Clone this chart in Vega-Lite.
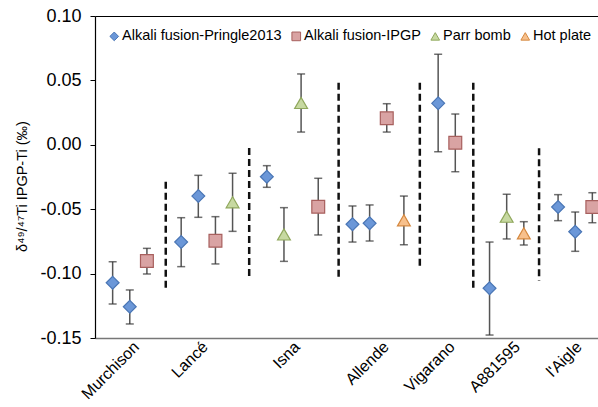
{
  "$schema": "https://vega.github.io/schema/vega-lite/v6.json",
  "autosize": "none",
  "width": 503,
  "height": 322,
  "padding": {"left": 95, "top": 16, "right": 0, "bottom": 69},
  "config": {
    "font": "Liberation Sans",
    "view": {"stroke": null},
    "axis": {"grid": false}
  },
  "datasets": {
    "pts": [
      {"sample": "Murchison", "method": "Alkali fusion-Pringle2013", "slot": 0, "value": -0.1071, "lo": -0.1236, "hi": -0.0908},
      {"sample": "Murchison", "method": "Alkali fusion-Pringle2013", "slot": 1, "value": -0.1257, "lo": -0.1391, "hi": -0.1127},
      {"sample": "Murchison", "method": "Alkali fusion-IPGP", "slot": 2, "value": -0.0902, "lo": -0.1003, "hi": -0.0804},
      {"sample": "Lancé", "method": "Alkali fusion-Pringle2013", "slot": 4, "value": -0.0755, "lo": -0.0946, "hi": -0.0566},
      {"sample": "Lancé", "method": "Alkali fusion-Pringle2013", "slot": 5, "value": -0.0398, "lo": -0.0563, "hi": -0.0237},
      {"sample": "Lancé", "method": "Alkali fusion-IPGP", "slot": 6, "value": -0.0745, "lo": -0.0925, "hi": -0.0558},
      {"sample": "Lancé", "method": "Parr bomb", "slot": 7, "value": -0.0446, "lo": -0.0672, "hi": -0.0221},
      {"sample": "Isna", "method": "Alkali fusion-Pringle2013", "slot": 9, "value": -0.0248, "lo": -0.0330, "hi": -0.0162},
      {"sample": "Isna", "method": "Parr bomb", "slot": 10, "value": -0.0696, "lo": -0.0905, "hi": -0.0488},
      {"sample": "Isna", "method": "Parr bomb", "slot": 11, "value": 0.0325, "lo": 0.0099, "hi": 0.0550},
      {"sample": "Isna", "method": "Alkali fusion-IPGP", "slot": 12, "value": -0.0481, "lo": -0.0700, "hi": -0.0260},
      {"sample": "Allende", "method": "Alkali fusion-Pringle2013", "slot": 14, "value": -0.0617, "lo": -0.0755, "hi": -0.0475},
      {"sample": "Allende", "method": "Alkali fusion-Pringle2013", "slot": 15, "value": -0.0609, "lo": -0.0747, "hi": -0.0467},
      {"sample": "Allende", "method": "Alkali fusion-IPGP", "slot": 16, "value": 0.0206, "lo": 0.0099, "hi": 0.0319},
      {"sample": "Allende", "method": "Hot plate", "slot": 17, "value": -0.0586, "lo": -0.0776, "hi": -0.0398},
      {"sample": "Vigarano", "method": "Alkali fusion-Pringle2013", "slot": 19, "value": 0.0322, "lo": -0.0054, "hi": 0.0703},
      {"sample": "Vigarano", "method": "Alkali fusion-IPGP", "slot": 20, "value": 0.0016, "lo": -0.0209, "hi": 0.0239},
      {"sample": "A881595", "method": "Alkali fusion-Pringle2013", "slot": 22, "value": -0.1114, "lo": -0.1477, "hi": -0.0755},
      {"sample": "A881595", "method": "Parr bomb", "slot": 23, "value": -0.0558, "lo": -0.0731, "hi": -0.0384},
      {"sample": "A881595", "method": "Hot plate", "slot": 24, "value": -0.0687, "lo": -0.0778, "hi": -0.0597},
      {"sample": "l'Aigle", "method": "Alkali fusion-Pringle2013", "slot": 26, "value": -0.0483, "lo": -0.0589, "hi": -0.0387},
      {"sample": "l'Aigle", "method": "Alkali fusion-Pringle2013", "slot": 27, "value": -0.0675, "lo": -0.0827, "hi": -0.0522},
      {"sample": "l'Aigle", "method": "Alkali fusion-IPGP", "slot": 28, "value": -0.0483, "lo": -0.0605, "hi": -0.0372}
    ],
    "seps": [
      {"slot": 3.1, "top": -0.0286, "bottom": -0.1141},
      {"slot": 7.97, "top": -0.0025, "bottom": -0.1050},
      {"slot": 13.19, "top": 0.0482, "bottom": -0.1055},
      {"slot": 17.93, "top": 0.0482, "bottom": -0.0951},
      {"slot": 21.05, "top": 0.0482, "bottom": -0.1133},
      {"slot": 24.89, "top": -0.0027, "bottom": -0.1055}
    ]
  },
  "layer": [
    {
      "data": {"name": "seps"},
      "mark": {"type": "rule", "color": "#111111", "strokeWidth": 2.5, "strokeDash": [7, 4]},
      "encoding": {
        "x": {"field": "slot", "type": "quantitative", "scale": {"domain": [-1.03, 28.33], "nice": false, "zero": false}},
        "y": {"field": "top", "type": "quantitative", "scale": {"domain": [-0.15, 0.1], "nice": false}},
        "y2": {"field": "bottom"}
      }
    },
    {
      "data": {"name": "pts"},
      "mark": {"type": "rule", "color": "#555555", "strokeWidth": 1.5},
      "encoding": {
        "x": {"field": "slot", "type": "quantitative"},
        "y": {"field": "lo", "type": "quantitative"},
        "y2": {"field": "hi"}
      }
    },
    {
      "data": {"name": "pts"},
      "mark": {"type": "tick", "orient": "horizontal", "color": "#333333", "size": 8, "thickness": 1.5},
      "encoding": {
        "x": {"field": "slot", "type": "quantitative"},
        "y": {"field": "lo", "type": "quantitative"}
      }
    },
    {
      "data": {"name": "pts"},
      "mark": {"type": "tick", "orient": "horizontal", "color": "#333333", "size": 8, "thickness": 1.5},
      "encoding": {
        "x": {"field": "slot", "type": "quantitative"},
        "y": {"field": "hi", "type": "quantitative"}
      }
    },
    {
      "data": {"name": "pts"},
      "mark": {"type": "point", "filled": true, "size": 165, "opacity": 1, "strokeWidth": 1.2},
      "encoding": {
        "x": {
          "field": "slot", "type": "quantitative",
          "axis": {
            "title": null,
            "values": [1.37, 5.38, 10.75, 15.94, 19.8, 23.6, 27.2],
            "labelExpr": "datum.value < 3 ? 'Murchison' : datum.value < 8 ? 'Lancé' : datum.value < 13 ? 'Isna' : datum.value < 18 ? 'Allende' : datum.value < 22 ? 'Vigarano' : datum.value < 25 ? 'A881595' : \"l'Aigle\"",
            "labelAngle": -45,
            "labelAlign": "right",
            "labelBaseline": "middle",
            "labelFontSize": 16,
            "labelColor": "#000000",
            "labelPadding": 6,
            "ticks": false,
            "domainColor": "#777777",
            "domainWidth": 1.5,
            "labelOverlap": false,
            "labelBound": false,
            "labelFlush": false
          }
        },
        "y": {
          "field": "value", "type": "quantitative",
          "axis": {
            "title": "δ⁴⁹/⁴⁷Ti IPGP-Ti (‰)",
            "titleFontSize": 14.5,
            "titleFontWeight": "normal",
            "titleColor": "#000000",
            "titleX": -73,
            "titleY": 170,
            "titleBaseline": "middle",
            "values": [-0.15, -0.1, -0.05, 0, 0.05, 0.1],
            "labelExpr": "replace(format(datum.value, '.2f'), '\u2212', '-')",
            "labelFontSize": 18,
            "labelColor": "#000000",
            "labelPadding": 9,
            "tickSize": 5,
            "tickColor": "#000000",
            "domainColor": "#000000",
            "domainWidth": 1.2,
            "grid": true,
            "gridColor": "#000000",
            "gridWidth": 1.2,
            "gridOpacity": {"condition": {"test": "datum.value > 0.09", "value": 1}, "value": 0}
          }
        },
        "shape": {
          "field": "method", "type": "nominal",
          "scale": {"domain": ["Alkali fusion-Pringle2013", "Alkali fusion-IPGP", "Parr bomb", "Hot plate"], "range": ["diamond", "square", "triangle-up", "triangle-up"]},
          "legend": {
            "title": null,
            "orient": "none",
            "direction": "horizontal",
            "legendX": 12,
            "legendY": 13,
            "labelFontSize": 14.5,
            "labelLimit": 400,
            "labelColor": "#000000",
            "labelOffset": 0.5,
            "columnPadding": 7,
            "symbolSize": 75,
            "symbolStrokeWidth": 1
          }
        },
        "color": {
          "field": "method", "type": "nominal",
          "scale": {"domain": ["Alkali fusion-Pringle2013", "Alkali fusion-IPGP", "Parr bomb", "Hot plate"], "range": ["#6b97d8", "#d9a3a3", "#c7d9a1", "#f7c08c"]},
          "legend": {"title": null}
        },
        "stroke": {
          "field": "method", "type": "nominal",
          "scale": {"domain": ["Alkali fusion-Pringle2013", "Alkali fusion-IPGP", "Parr bomb", "Hot plate"], "range": ["#4a76b5", "#a8605e", "#8fa75c", "#d5883f"]},
          "legend": {"title": null}
        }
      }
    }
  ]
}
